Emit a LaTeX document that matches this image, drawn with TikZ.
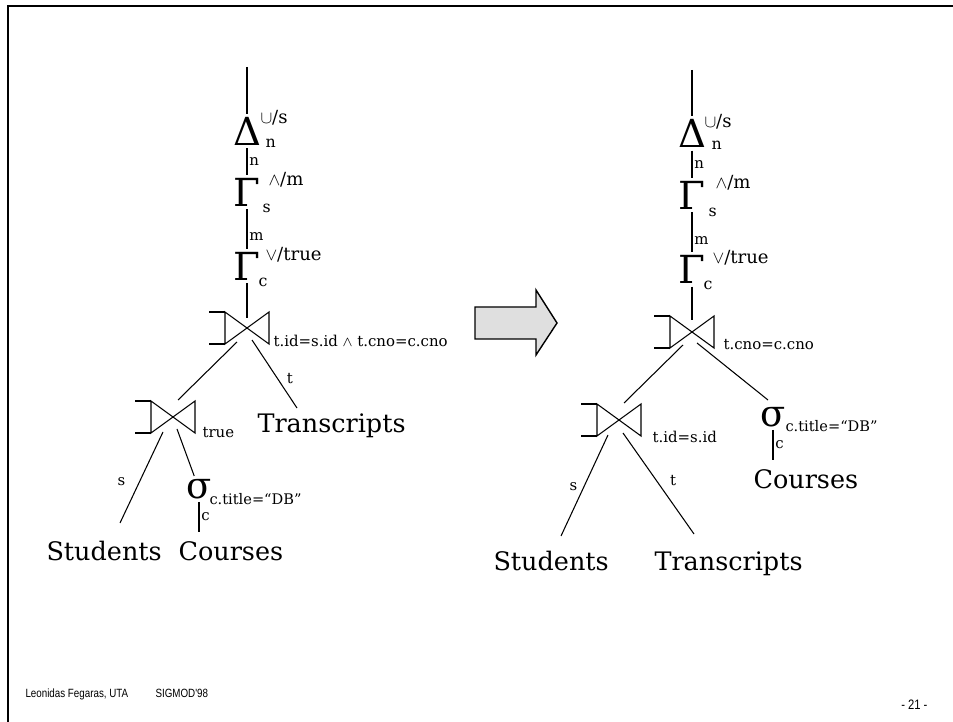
\documentclass[tikz,border=0pt]{standalone}
\usepackage{fontspec}
\setmainfont{DejaVu Serif}
\newfontfamily\footfont[FakeStretch=0.82]{Liberation Sans}
\usetikzlibrary{calc}
\tikzset{
  op/.style={font=\fontsize{22}{24}\selectfont,inner sep=1.5pt},
  sg/.style={font=\fontsize{21}{23}\selectfont,inner sep=1.5pt},
  leaf/.style={font=\fontsize{14.5}{16}\selectfont,inner sep=0pt,anchor=base west},
  sup/.style={font=\fontsize{10.3}{12}\selectfont,inner sep=0pt,anchor=west},
  sub/.style={font=\fontsize{9}{10}\selectfont,inner sep=0pt,anchor=west},
  lab/.style={font=\fontsize{8.5}{10}\selectfont,inner sep=1pt},
  foot/.style={font=\footfont\fontsize{6.8}{8}\selectfont,inner sep=0pt},
  ojoin/.pic={
    \draw (-22,-16) -- (22,16) -- (22,-16) -- (-22,16) -- cycle;
    \draw (-38,-16) -- (-22,-16) (-38,16) -- (-22,16);
  }
}
\begin{document}
\begin{tikzpicture}[x=0.02cm,y=-0.02cm,line width=0.6pt]
\useasboundingbox (0,0) rectangle (953,722);
\draw[line width=1.6pt] (8,722) -- (8,6) -- (953,6);

% left plan
\coordinate (topL) at (247,67);
\node[op] (dL) at (247,131) {Δ};
\node[sup] at (260,118) {$\cup$/s};
\node[sub] at (265,143) {n};
\node[op] (gsL) at (247,192) {Γ};
\node[sup] at (268,180) {$\wedge$/m};
\node[sub] at (262,208) {s};
\node[op] (gcL) at (247,266) {Γ};
\node[sup] at (265,255) {$\vee$/true};
\node[sub] at (258,282) {c};
\coordinate (jL1) at (247,328);
\pic at (jL1) {ojoin};
\node[lab,anchor=west,inner sep=0pt] at (273,341) {t.id=s.id $\wedge$ t.cno=c.cno};
\coordinate (jL2) at (173,417);
\pic at (jL2) {ojoin};
\node[lab,anchor=west,inner sep=0pt] at (202,433) {true};
\node[sg] (sgL) at (199,489) {σ};
\node[sub,font=\fontsize{8.3}{10}\selectfont] at (209,499) {c.title=“DB”};
\node[leaf] (trL) at (257,433) {Transcripts};
\node[leaf] (stL) at (46,560) {Students};
\node[leaf] (crL) at (178,560) {Courses};

\draw (topL) -- (dL);
\draw (dL) -- (gsL) node[lab,right,pos=.5] {n};
\draw (gsL) -- (gcL) node[lab,right,pos=.7] {m};
\draw (gcL) -- ($(jL1)+(0,-10)$);
\draw ($(jL1)+(-10,14)$) -- ($(jL2)+(5,-17)$);
\draw ($(jL1)+(5,12)$) -- ($(trL.base west)+(40,-25)$) node[lab,right=4pt,pos=.57] {t};
\draw ($(jL2)+(-10,15)$) -- ($(stL.base west)+(74,-37)$) node[lab,left=7pt,pos=.54] {s};
\draw ($(jL2)+(4,12)$) -- (sgL);
\draw (sgL) -- ($(sgL |- crL.north)+(0,-9)$) node[lab,right,midway] {c};

% arrow
\filldraw[fill=gray!25,line width=0.8pt] (475,307) -- (536,307) -- (536,290) -- (557,323)
  -- (536,355) -- (536,339) -- (475,339) -- cycle;

% right plan
\coordinate (topR) at (692,70);
\node[op] (dR) at (692,133.5) {Δ};
\node[sup] at (704,122) {$\cup$/s};
\node[sub] at (711,145) {n};
\node[op] (gsR) at (692,195) {Γ};
\node[sup] at (715,183) {$\wedge$/m};
\node[sub] at (708,212) {s};
\node[op] (gcR) at (692,269.5) {Γ};
\node[sup] at (712,258) {$\vee$/true};
\node[sub] at (703,285) {c};
\coordinate (jR1) at (692,332);
\pic at (jR1) {ojoin};
\node[lab,anchor=west,inner sep=0pt] at (723,345) {t.cno=c.cno};
\coordinate (jR2) at (619,420);
\pic at (jR2) {ojoin};
\node[lab,anchor=west,inner sep=0pt] at (652,437) {t.id=s.id};
\node[sg] (sgR) at (773,417) {σ};
\node[sub,font=\fontsize{8.3}{10}\selectfont] at (785,426) {c.title=“DB”};
\node[leaf] (stR) at (493,570) {Students};
\node[leaf] (trR) at (654,570) {Transcripts};
\node[leaf] (crR) at (753,488) {Courses};

\draw (topR) -- (dR);
\draw (dR) -- (gsR) node[lab,right,pos=.5] {n};
\draw (gsR) -- (gcR) node[lab,right,pos=.7] {m};
\draw (gcR) -- ($(jR1)+(0,-12)$);
\draw ($(jR1)+(-9,13)$) -- ($(jR2)+(5,-17)$);
\draw ($(jR1)+(5,11)$) -- ($(sgR)+(-5,-17)$);
\draw ($(jR2)+(-11,15)$) -- ($(stR.base west)+(68,-34)$) node[lab,left=2.5pt,pos=.51] {s};
\draw ($(jR2)+(4,13)$) -- ($(trR.base west)+(40,-36)$) node[lab,right=6.5pt,pos=.47] {t};
\draw (sgR) -- ($(sgR |- crR.north)+(0,-9)$) node[lab,right,midway] {c};

% footer
\node[foot,anchor=base west] (auth) at (25,697) {Leonidas Fegaras, UTA};
\node[foot,anchor=base west] (conf) at (155,697) {SIGMOD'98};
\node[foot,anchor=base east,font=\footfont\fontsize{7.8}{9}\selectfont] (page) at (928,709) {- 21 -};
\end{tikzpicture}
\end{document}
